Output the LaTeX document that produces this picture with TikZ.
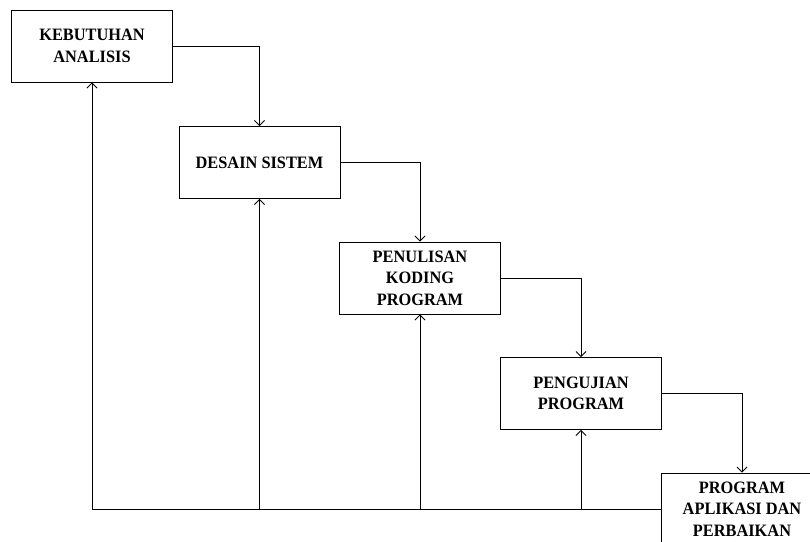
\documentclass[tikz,border=0pt]{standalone}
\usepackage{fontspec}
\setmainfont{Liberation Serif}
\newfontfamily\stagefont[FakeStretch=0.94]{Liberation Serif}
\usetikzlibrary{arrows.meta}
\begin{document}
\begin{tikzpicture}[x=1pt,y=-1pt,
  stage/.style={draw,line width=0.9pt,minimum width=161pt,minimum height=72pt,inner sep=0pt,
    align=center,font=\stagefont\fontsize{17.4}{21.5}\selectfont\bfseries},
  conn/.style={line width=0.8pt,-{Straight Barb[length=5pt,width=10pt]}}]
\useasboundingbox (0,0) rectangle (810,541);
\clip (0,0) rectangle (810,541);
\node[stage] (b1) at (92,46) {KEBUTUHAN\\ANALISIS};
\node[stage] (b2) at (259.5,162.5) {DESAIN SISTEM};
\node[stage] (b3) at (420,278) {PENULISAN\\KODING\\PROGRAM};
\node[stage] (b4) at (581,393.5) {PENGUJIAN\\PROGRAM};
\node[stage] (b5) at (742,509) {PROGRAM\\APLIKASI DAN\\PERBAIKAN};
\draw[conn] (b1.east) -| (b2.north);
\draw[conn] (b2.east) -| (b3.north);
\draw[conn] (b3.east) -| (b4.north);
\draw[conn] (b4.east) -| (b5.north);
\draw[conn] (b5.west) -| (b1.south);
\draw[conn] (b5.west) -| (b2.south);
\draw[conn] (b5.west) -| (b3.south);
\draw[conn] (b5.west) -| (b4.south);
\end{tikzpicture}
\end{document}
